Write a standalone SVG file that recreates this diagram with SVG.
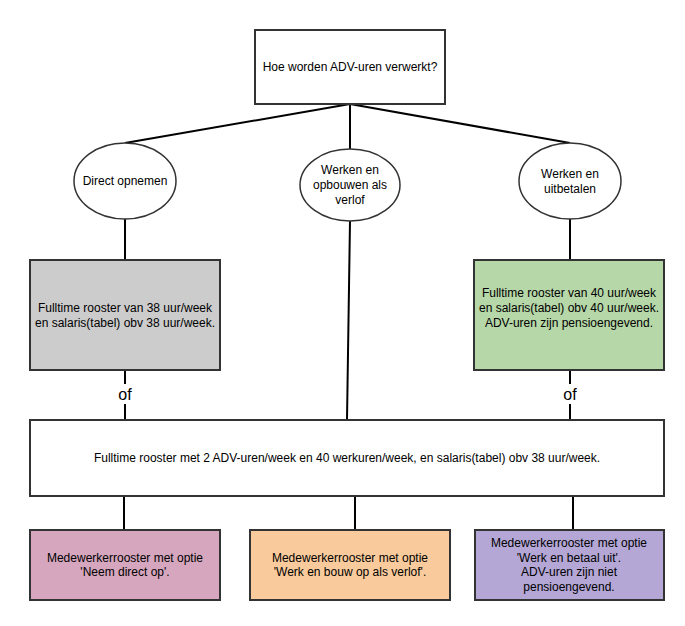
<svg xmlns="http://www.w3.org/2000/svg" width="685" height="626" viewBox="0 0 685 626">
<style>
text{font-family:"Liberation Sans",Arial,sans-serif;font-size:12px;fill:#000;text-anchor:middle;dominant-baseline:central}
.box{stroke:#333;stroke-width:2}
.ell{fill:#fff;stroke:#333;stroke-width:1.5}
.conn line{stroke:#000;stroke-width:2}
.of{font-size:16px}
</style>
<rect width="685" height="626" fill="#fff"/>
<g class="conn" id="connectors">
<line x1="350" y1="104" x2="125" y2="143"/>
<line x1="350" y1="104" x2="350" y2="150"/>
<line x1="350" y1="104" x2="570" y2="143"/>
<line x1="125" y1="219" x2="125" y2="260"/>
<line x1="570" y1="219" x2="570" y2="260"/>
<line x1="350" y1="221" x2="347" y2="420"/>
<line x1="125" y1="370" x2="125" y2="420"/>
<line x1="570" y1="370" x2="570" y2="420"/>
<line x1="124" y1="496" x2="124" y2="530"/>
<line x1="355" y1="496" x2="355" y2="530"/>
<line x1="573" y1="496" x2="573" y2="530"/>
<rect x="115" y="384" width="20" height="20" fill="#fff"/>
<text class="of" x="125" y="394">of</text>
<rect x="560" y="384" width="20" height="20" fill="#fff"/>
<text class="of" x="570" y="394">of</text>
</g>
<g id="question">
<rect class="box" x="255" y="30" width="190" height="74" fill="#fff"/>
<text x="350" y="67">Hoe worden ADV-uren verwerkt?</text>
</g>
<g id="direct">
<ellipse class="ell" cx="125" cy="181" rx="51" ry="38"/>
<text x="125" y="181">Direct opnemen</text>
</g>
<g id="opbouwen">
<ellipse class="ell" cx="350" cy="185" rx="50" ry="36"/>
<text x="350" y="170">Werken en</text>
<text x="350" y="185">opbouwen als</text>
<text x="350" y="200">verlof</text>
</g>
<g id="uitbetalen">
<ellipse class="ell" cx="570" cy="181" rx="51" ry="38"/>
<text x="570" y="174">Werken en</text>
<text x="570" y="189">uitbetalen</text>
</g>
<g id="rooster38">
<rect class="box" x="30" y="260" width="190" height="110" fill="#cccccc"/>
<text x="125" y="308">Fulltime rooster van 38 uur/week</text>
<text x="125" y="323">en salaris(tabel) obv 38 uur/week.</text>
</g>
<g id="rooster40">
<rect class="box" x="474" y="260" width="190" height="110" fill="#b6d7a8"/>
<text x="569" y="293">Fulltime rooster van 40 uur/week</text>
<text x="569" y="308">en salaris(tabel) obv 40 uur/week.</text>
<text x="569" y="323">ADV-uren zijn pensioengevend.</text>
</g>
<g id="main">
<rect class="box" x="30" y="420" width="634" height="76" fill="#fff"/>
<text x="347" y="458">Fulltime rooster met 2 ADV-uren/week en 40 werkuren/week, en salaris(tabel) obv 38 uur/week.</text>
</g>
<g id="neem">
<rect class="box" x="30" y="530" width="190" height="70" fill="#d5a6bd"/>
<text x="125" y="558">Medewerkerrooster met optie</text>
<text x="125" y="572">'Neem direct op'.</text>
</g>
<g id="bouw">
<rect class="box" x="250" y="530" width="200" height="70" fill="#f9cb9c"/>
<text x="350" y="558">Medewerkerrooster met optie</text>
<text x="350" y="572">'Werk en bouw op als verlof'.</text>
</g>
<g id="betaal">
<rect class="box" x="475" y="530" width="189" height="70" fill="#b4a7d6"/>
<text x="569" y="543">Medewerkerrooster met optie</text>
<text x="569" y="558">'Werk en betaal uit'.</text>
<text x="569" y="572">ADV-uren zijn niet</text>
<text x="569" y="587">pensioengevend.</text>
</g>
</svg>
